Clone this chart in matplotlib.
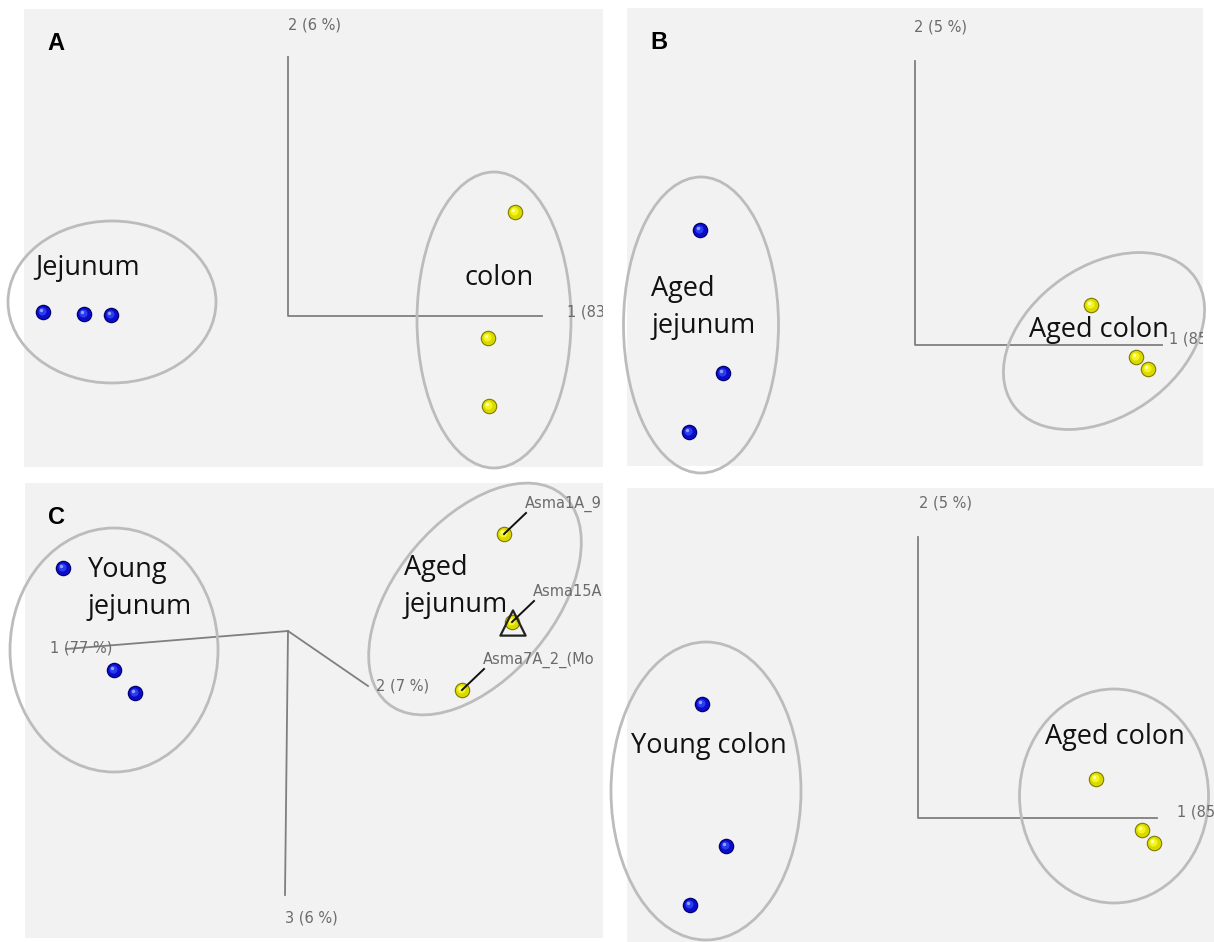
import numpy as np
import matplotlib.pyplot as plt
from matplotlib.patches import Ellipse

W, H = 1214, 942

# panel boxes in pixels (left, top, right, bottom) and axis-origin pixel
panel_A_box, panel_A_origin = (24, 9, 603, 467), (288, 316)
panel_B_box, panel_B_origin = (627, 8, 1203, 466), (915, 345)
panel_C_box, panel_C_origin = (25, 483, 603, 938), (288, 631)
panel_D_box, panel_D_origin = (627, 488, 1214, 942), (918, 818)

# PCA scores (pixel units from the axis origin)
A_blue_x = [-245, -204, -177]
A_blue_y = [4, 2, 1]
A_yellow_x = [227, 200, 201]
A_yellow_y = [104, -22, -90]
A_pct = ["2 (6 %)", "1 (83 %)"]

B_blue_x = [-215, -192, -226]
B_blue_y = [115, -28, -87]
B_yellow_x = [176, 221, 233]
B_yellow_y = [40, -12, -24]
B_pct = ["2 (5 %)", "1 (85 %)"]

C_blue_x = [-225, -174, -153]
C_blue_y = [63, -39, -62]
C_yellow_x = [216, 224, 174]
C_yellow_y = [97, 9, -59]
C_sample_names = ["Asma1A_9", "Asma15A", "Asma7A_2_(Mo"]
C_pct = ["1 (77 %)", "2 (7 %)", "3 (6 %)"]

D_blue_x = [-216, -192, -228]
D_blue_y = [114, -28, -87]
D_yellow_x = [178, 224, 236]
D_yellow_y = [39, -12, -25]
D_pct = ["2 (5 %)", "1 (85 %)"]

BG = '#f2f2f2'
AXC = '#7f7f7f'
ELC = '#bcbcbc'
LBL = '#6b6b6b'
GROUP_FONT = ['Open Sans', 'DejaVu Sans']

fig = plt.figure(figsize=(W / 100, H / 100), dpi=100)


def add_panel(box, origin):
    l, t, r, b = box
    ox, oy = origin
    ax = fig.add_axes([l / W, 1 - b / H, (r - l) / W, (b - t) / H])
    ax.set_xlim(l - ox, r - ox)
    ax.set_ylim(oy - b, oy - t)
    ax.set_facecolor(BG)
    for s in ax.spines.values():
        s.set_visible(False)
    ax.set_xticks([])
    ax.set_yticks([])
    return ax


def spheres(ax, xs, ys, kind):
    xs = np.asarray(xs, float)
    ys = np.asarray(ys, float)
    if kind == 'blue':
        cols = ['#00006a', '#0b0bc8', '#2a3cf0', '#8fa0ff']
    else:
        cols = ['#7d7a00', '#d9d900', '#f5f51a', '#ffffb0']
    ax.scatter(xs, ys, s=125, color=cols[0], zorder=5, linewidths=0)
    ax.scatter(xs - 0.5, ys + 0.5, s=92, color=cols[1], zorder=6, linewidths=0)
    ax.scatter(xs - 1.5, ys + 1.5, s=34, color=cols[2], zorder=7, linewidths=0)
    ax.scatter(xs - 2, ys + 2, s=6, color=cols[3], zorder=8, linewidths=0)


def ring(ax, cx, cy, w, h, ang=0):
    e = Ellipse((cx, cy), w, h, angle=ang, fill=False, edgecolor=ELC,
                linewidth=2.0, zorder=3, clip_on=False)
    ax.add_patch(e)


def letter(ax, s):
    ax.text(0.04, 0.925, s, transform=ax.transAxes, fontsize=17,
            fontweight='bold', family='Liberation Sans', va='center', ha='left')


def axis_label(ax, x, y, s, ha='left'):
    ax.text(x, y, s, fontsize=10.5, color=LBL, ha=ha, va='center', clip_on=True,
            zorder=4)


def group(ax, x, y, lines, step=37):
    for k, s in enumerate(lines):
        ax.text(x, y - k * step, s, fontsize=19.5, family=GROUP_FONT,
                color='#111111', ha='left', va='center', zorder=9)


# ---- A
ax = add_panel(panel_A_box, panel_A_origin)
ax.plot([0, 0, 254], [259, 0, 0], color=AXC, lw=1.3, zorder=2)
axis_label(ax, 0, 291, A_pct[0])
axis_label(ax, 279, 4, A_pct[1])
ring(ax, -176, 14, 208, 162)
ring(ax, 206, -4, 154, 296)
spheres(ax, A_blue_x, A_blue_y, 'blue')
spheres(ax, A_yellow_x, A_yellow_y, 'yellow')
group(ax, -253, 48, ["Jejunum"])
group(ax, 177, 38, ["colon"])
letter(ax, "A")

# ---- B
ax = add_panel(panel_B_box, panel_B_origin)
ax.plot([0, 0, 247], [284, 0, 0], color=AXC, lw=1.3, zorder=2)
axis_label(ax, -1, 318, B_pct[0])
axis_label(ax, 254, 6, B_pct[1])
ring(ax, -214, 20, 155, 296)
ring(ax, 189, 4, 222, 150, 35)
spheres(ax, B_blue_x, B_blue_y, 'blue')
spheres(ax, B_yellow_x, B_yellow_y, 'yellow')
group(ax, -264, 56, ["Aged", "jejunum"])
group(ax, 114, 15, ["Aged colon"])
letter(ax, "B")

# ---- C
ax = add_panel(panel_C_box, panel_C_origin)
for dx, dy in [(-222, -18), (80, -55), (-3, -264)]:
    ax.plot([0, dx], [0, dy], color=AXC, lw=1.3, zorder=2)
axis_label(ax, -238, -17, C_pct[0])
axis_label(ax, 88, -55, C_pct[1])
axis_label(ax, -3, -287, C_pct[2])
ring(ax, -174, -19, 208, 244)
ring(ax, 187, 32, 272, 158, 50)
spheres(ax, C_blue_x, C_blue_y, 'blue')
spheres(ax, C_yellow_x, C_yellow_y, 'yellow')
ax.scatter([C_yellow_x[1] + 1], [C_yellow_y[1] - 1], s=330, marker='^',
           facecolors='none', edgecolors='#222222', linewidths=1.6, zorder=9)
for i, name in enumerate(C_sample_names):
    px, py = C_yellow_x[i], C_yellow_y[i]
    ax.plot([px, px + 22], [py, py + 21], color='#111111', lw=1.4, zorder=9)
    axis_label(ax, px + 21, py + 30, name)
group(ax, -200, 61, ["Young", "jejunum"])
group(ax, 116, 63, ["Aged", "jejunum"])
letter(ax, "C")

# ---- D
ax = add_panel(panel_D_box, panel_D_origin)
ax.plot([0, 0, 239], [281, 0, 0], color=AXC, lw=1.3, zorder=2)
axis_label(ax, 1, 315, D_pct[0])
axis_label(ax, 259, 6, D_pct[1])
ring(ax, -212, 27, 190, 298)
ring(ax, 196, 22, 189, 214)
spheres(ax, D_blue_x, D_blue_y, 'blue')
spheres(ax, D_yellow_x, D_yellow_y, 'yellow')
group(ax, -287, 72, ["Young colon"])
group(ax, 127, 81, ["Aged colon"])

fig.savefig("out.png", dpi=100, facecolor='white')
